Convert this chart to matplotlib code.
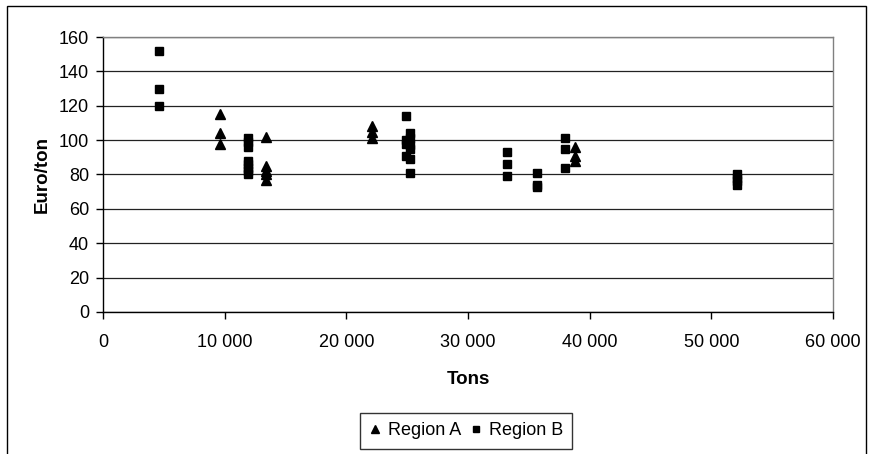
import matplotlib.pyplot as plt
from matplotlib.patches import Rectangle
from matplotlib.ticker import FuncFormatter

# Region A (triangles)
a_tons = [9600, 9600, 9600,
          13400, 13400, 13400, 13400, 13400,
          22100, 22100, 22100,
          38800, 38800, 38800]
a_price = [115, 104, 98,
           102, 85, 82, 80, 77,
           108, 105, 101,
           96, 91, 88]

# Region B (squares)
b_tons = [4600, 4600, 4600,
          11900, 11900, 11900, 11900, 11900, 11900, 11900, 11900,
          24900, 24900, 24900, 24900,
          25200, 25200, 25200, 25200, 25200, 25200,
          33200, 33200, 33200,
          35700, 35700, 35700,
          38000, 38000, 38000,
          52100, 52100, 52100, 52100]
b_price = [152, 130, 120,
           101, 99, 96, 88, 86, 84, 82, 80,
           114, 100, 98, 91,
           104, 101, 97, 95, 89, 81,
           93, 86, 79,
           81, 74, 73,
           101, 95, 84,
           80, 78, 76, 74]

plt.rcParams['font.family'] = ['Liberation Sans', 'DejaVu Sans']

fig = plt.figure(figsize=(8.7, 4.54), dpi=100)
ax = fig.add_axes([0.1184, 0.3128, 0.8391, 0.6057])

# outer chart border
fig.add_artist(Rectangle((0.008, -0.1), 0.987, 1.087, transform=fig.transFigure,
                         fill=False, edgecolor='black', linewidth=1.0))

ax.plot(a_tons, a_price, linestyle='none', marker='^', markersize=6.5,
        color='black', label='Region A', zorder=3)
ax.plot(b_tons, b_price, linestyle='none', marker='s', markersize=5.2,
        color='black', label='Region B', zorder=3)

ax.set_xlim(0, 60000)
ax.set_ylim(0, 160)
ax.set_xticks(range(0, 60001, 10000))
ax.set_yticks(range(0, 161, 20))
ax.xaxis.set_major_formatter(FuncFormatter(lambda v, p: f"{int(v):,}".replace(',', ' ')))
ax.grid(axis='y', color='#222222', linewidth=0.9)
ax.set_axisbelow(True)

for s in ['top', 'right']:
    ax.spines[s].set_color('#808080')
    ax.spines[s].set_linewidth(1.0)
for s in ['left', 'bottom']:
    ax.spines[s].set_color('black')
    ax.spines[s].set_linewidth(1.0)

ax.tick_params(direction='out', length=5, width=1, labelsize=13, pad=5)
ax.tick_params(axis='x', pad=11)

ax.set_xlabel('Tons', fontsize=13.5, fontweight='bold', labelpad=14)
ax.set_ylabel('Euro/ton', fontsize=13.5, fontweight='bold', labelpad=6)

leg = fig.legend(loc='center', bbox_to_anchor=(0.5356, 0.0507), ncol=2,
                 fontsize=13, frameon=True, fancybox=False, edgecolor='black',
                 handlelength=0.7, handletextpad=0.35, columnspacing=0.5,
                 borderpad=0.5, markerscale=0.85)
leg.get_frame().set_linewidth(1.0)

fig.savefig('out.png', dpi=100)
